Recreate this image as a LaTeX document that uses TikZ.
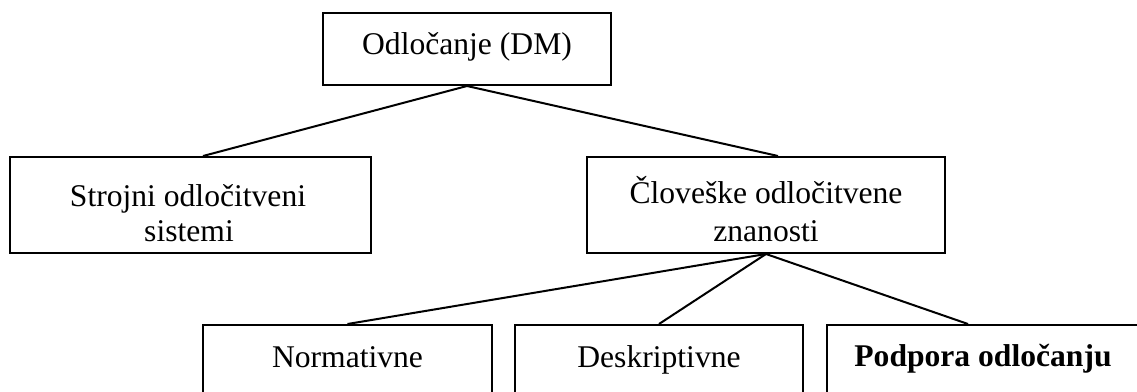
\documentclass[tikz,border=0pt]{standalone}
\usepackage{fontspec}
\setmainfont{Liberation Serif}
\begin{document}
\begin{tikzpicture}[x=1pt,y=-1pt,
  box/.style={draw, line width=2pt, inner sep=0pt},
  lbl/.style={anchor=base, inner sep=0pt, font=\fontsize{31.6}{36}\selectfont},
  link/.style={line width=2pt}]
\useasboundingbox (0,0) rectangle (1137,391);
\clip (0,0) rectangle (1137,391);
% boxes
\node[box, minimum width=288pt, minimum height=72pt] (top) at (467,49) {};
\node[box, minimum width=361pt, minimum height=96pt] (left) at (190.5,205) {};
\node[box, minimum width=358pt, minimum height=96pt] (right) at (766,205) {};
\node[box, minimum width=289pt, minimum height=80pt] (norm) at (347.5,365) {};
\node[box, minimum width=288pt, minimum height=80pt] (desk) at (659,365) {};
\node[box, minimum width=312pt, minimum height=80pt] (pod) at (983,365) {};
% labels
\node[lbl] (tTop) at (467,54) {Odločanje (DM)};
\node[lbl] (tLeftA) at (188,206) {Strojni odločitveni};
\node[lbl] (tLeftB) at (189,241) {sistemi};
\node[lbl] (tRightA) at (766,203) {Človeške odločitvene};
\node[lbl] (tRightB) at (766,241) {znanosti};
\node[lbl] (tNorm) at (347.5,367) {Normativne};
\node[lbl] (tDesk) at (659,367) {Deskriptivne};
\node[lbl, font=\fontsize{31.6}{36}\selectfont\bfseries] (tPod) at (983,366) {Podpora odločanju};
% connectors
\draw[link] (top.south) -- ([xshift=12.5pt]left.north);
\draw[link] (top.south) -- ([xshift=12pt]right.north);
\draw[link] (right.south) -- (norm.north);
\draw[link] (right.south) -- (desk.north);
\draw[link] (right.south) -- ([xshift=-15pt]pod.north);
\end{tikzpicture}
\end{document}
